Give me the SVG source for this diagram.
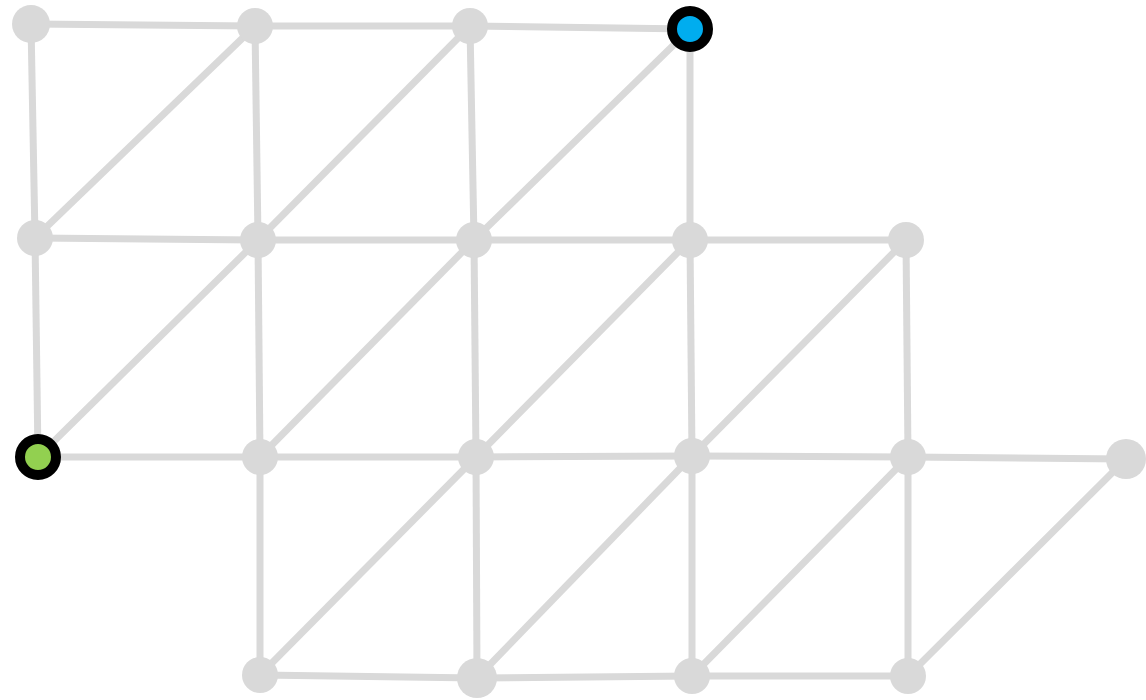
<svg xmlns="http://www.w3.org/2000/svg" width="1146" height="700" viewBox="0 0 1146 700">
<style>
.e{stroke:#d9d9d9;stroke-width:7;fill:none}
.n{fill:#d9d9d9}
.h{stroke:#000;stroke-width:10}
</style>
<rect width="1146" height="700" fill="#fff"/>
<g id="edges" class="e">
<line x1="31" y1="24" x2="255" y2="26"/>
<line x1="255" y1="26" x2="470" y2="26"/>
<line x1="470" y1="26" x2="690" y2="29"/>
<line x1="35" y1="238" x2="258" y2="240"/>
<line x1="258" y1="240" x2="474" y2="240"/>
<line x1="474" y1="240" x2="690" y2="240"/>
<line x1="690" y1="240" x2="906" y2="240"/>
<line x1="38" y1="457" x2="260" y2="457"/>
<line x1="260" y1="457" x2="476" y2="457"/>
<line x1="476" y1="457" x2="692" y2="456"/>
<line x1="692" y1="456" x2="908" y2="457"/>
<line x1="908" y1="457" x2="1126" y2="459"/>
<line x1="260" y1="675" x2="477" y2="678"/>
<line x1="477" y1="678" x2="692" y2="676"/>
<line x1="692" y1="676" x2="908" y2="676"/>
<line x1="31" y1="24" x2="35" y2="238"/>
<line x1="35" y1="238" x2="38" y2="457"/>
<line x1="255" y1="26" x2="258" y2="240"/>
<line x1="258" y1="240" x2="260" y2="457"/>
<line x1="260" y1="457" x2="260" y2="675"/>
<line x1="470" y1="26" x2="474" y2="240"/>
<line x1="474" y1="240" x2="476" y2="457"/>
<line x1="476" y1="457" x2="477" y2="678"/>
<line x1="690" y1="29" x2="690" y2="240"/>
<line x1="690" y1="240" x2="692" y2="456"/>
<line x1="692" y1="456" x2="692" y2="676"/>
<line x1="906" y1="240" x2="908" y2="457"/>
<line x1="908" y1="457" x2="908" y2="676"/>
<line x1="255" y1="26" x2="35" y2="238"/>
<line x1="470" y1="26" x2="258" y2="240"/>
<line x1="690" y1="29" x2="474" y2="240"/>
<line x1="258" y1="240" x2="38" y2="457"/>
<line x1="474" y1="240" x2="260" y2="457"/>
<line x1="690" y1="240" x2="476" y2="457"/>
<line x1="906" y1="240" x2="692" y2="456"/>
<line x1="476" y1="457" x2="260" y2="675"/>
<line x1="692" y1="456" x2="477" y2="678"/>
<line x1="908" y1="457" x2="692" y2="676"/>
<line x1="1126" y1="459" x2="908" y2="676"/>
</g>
<g id="n00"><circle class="n" cx="31" cy="24" r="19"/></g>
<g id="n01"><circle class="n" cx="255" cy="26" r="18"/></g>
<g id="n02"><circle class="n" cx="470" cy="26" r="18"/></g>
<g id="n03"><circle class="h" cx="690" cy="29" r="18" fill="#00adef"/></g>
<g id="n10"><circle class="n" cx="35" cy="238" r="18"/></g>
<g id="n11"><circle class="n" cx="258" cy="240" r="18"/></g>
<g id="n12"><circle class="n" cx="474" cy="240" r="18"/></g>
<g id="n13"><circle class="n" cx="690" cy="240" r="18"/></g>
<g id="n14"><circle class="n" cx="906" cy="240" r="18"/></g>
<g id="n20"><circle class="h" cx="38" cy="457" r="18" fill="#92d050"/></g>
<g id="n21"><circle class="n" cx="260" cy="457" r="18"/></g>
<g id="n22"><circle class="n" cx="476" cy="457" r="18"/></g>
<g id="n23"><circle class="n" cx="692" cy="456" r="18"/></g>
<g id="n24"><circle class="n" cx="908" cy="457" r="18"/></g>
<g id="n25"><circle class="n" cx="1126" cy="459" r="20"/></g>
<g id="n31"><circle class="n" cx="260" cy="675" r="18"/></g>
<g id="n32"><circle class="n" cx="477" cy="678" r="20"/></g>
<g id="n33"><circle class="n" cx="692" cy="676" r="18"/></g>
<g id="n34"><circle class="n" cx="908" cy="676" r="18"/></g>
</svg>
